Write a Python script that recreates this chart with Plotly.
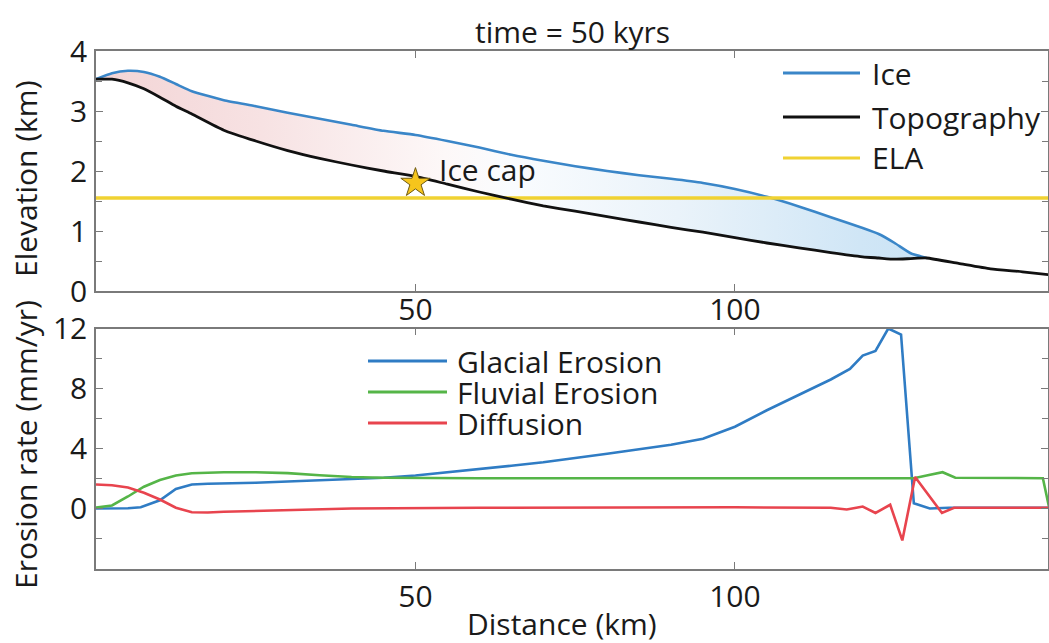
import plotly.graph_objects as go

W, H = 1049, 643

# ---------------- data: top panel (elevation, km) ----------------
dist_top = [0, 2.5, 5, 7.5, 10, 12.5, 15, 20, 25, 30, 35, 40, 45, 50, 55, 60, 65, 70,
            75, 80, 85, 90, 95, 100, 105, 110, 115, 120, 122.5, 125, 127.5, 130,
            135, 140, 145, 150]
topography = [3.53, 3.53, 3.47, 3.37, 3.23, 3.08, 2.95, 2.68, 2.5, 2.34, 2.21, 2.1, 2.0,
              1.91, 1.78, 1.65, 1.53, 1.42, 1.33, 1.24, 1.15, 1.06, 0.98, 0.89, 0.8,
              0.72, 0.64, 0.57, 0.55, 0.53, 0.54, 0.55, 0.46, 0.37, 0.32, 0.26]
dist_ice = [0, 2.5, 5, 7.5, 10, 12.5, 15, 20, 25, 30, 35, 40, 45, 50, 55, 60, 65, 70,
            75, 80, 85, 90, 95, 100, 105, 110, 115, 120, 122.5, 125, 127.5, 130]
ice = [3.53, 3.63, 3.67, 3.65, 3.57, 3.45, 3.33, 3.18, 3.08, 2.97, 2.87, 2.77, 2.67,
       2.6, 2.5, 2.39, 2.27, 2.17, 2.08, 2.0, 1.93, 1.87, 1.8, 1.7, 1.57, 1.41, 1.23,
       1.05, 0.95, 0.8, 0.63, 0.55]
ela_x = [0, 150]
ela = [1.55, 1.55]
star_x = [50]
star_y = [1.8]

# ---------------- data: bottom panel (erosion rate, mm/yr) ----------------
dist_glacial = [0, 5, 7, 10, 12.5, 15, 17.5, 20, 25, 30, 35, 40, 45, 50, 55, 60, 65, 70,
                75, 80, 85, 90, 95, 100, 105, 110, 115, 118, 120, 122, 124, 126, 128,
                130.5, 133.5, 140, 150]
glacial = [0.0, 0.02, 0.08, 0.55, 1.3, 1.6, 1.65, 1.67, 1.72, 1.8, 1.87, 1.94, 2.05,
           2.2, 2.4, 2.63, 2.85, 3.08, 3.35, 3.65, 3.95, 4.25, 4.65, 5.45, 6.55, 7.6,
           8.6, 9.3, 10.2, 10.5, 12.0, 11.6, 0.35, 0.0, 0.05, 0.05, 0.05]
dist_fluvial = [0, 2.5, 5, 7.5, 10, 12.5, 15, 17.5, 20, 25, 30, 35, 40, 45, 50, 60, 80,
                100, 120, 128, 130, 132.5, 134.5, 140, 148.2, 150]
fluvial = [0.07, 0.2, 0.8, 1.45, 1.9, 2.2, 2.35, 2.4, 2.42, 2.42, 2.36, 2.22, 2.1, 2.05,
           2.03, 2.02, 2.02, 2.02, 2.02, 2.02, 2.2, 2.42, 2.05, 2.02, 2.02, -1.6]
dist_diffusion = [0, 2.5, 5, 7.5, 10, 12.5, 15, 17.5, 20, 27, 35, 40, 60, 80, 100, 115,
                  117.5, 120, 122, 124.3, 126.2, 128.2, 132.4, 134.3, 140, 150]
diffusion = [1.6, 1.55, 1.4, 1.05, 0.6, 0.05, -0.25, -0.27, -0.22, -0.13, -0.05, 0.0,
             0.05, 0.07, 0.08, 0.05, -0.07, 0.13, -0.3, 0.25, -2.13, 2.1, -0.3, 0.05,
             0.05, 0.05]

ice_labels = ["Ice", "Topography", "ELA"]
erosion_labels = ["Glacial Erosion", "Fluvial Erosion", "Diffusion"]
x_ticks = [50, 100]
y1_ticks = [0, 1, 2, 3, 4]
y2_ticks = [0, 4, 8, 12]

# ---------------- styles ----------------
FONT = "Open Sans"
C_ICE = "#3a86c8"
C_TOPO = "#111111"
C_ELA = "#f0d232"
C_GLA = "#2f7cc4"
C_FLU = "#55b548"
C_DIF = "#e8444e"
AX = "#7a7a7a"
TXT = "#1a1a1a"


def px(x):
    return x / W


def py(y):
    return 1 - y / H


fig = go.Figure()

# ice fill (between topography and ice surface)
n_ice = len(dist_ice)
fig.add_trace(go.Scatter(x=dist_ice, y=topography[:n_ice], mode="lines",
                         line=dict(width=0, color="rgba(0,0,0,0)", shape="spline", smoothing=0.5),
                         showlegend=False, hoverinfo="skip", xaxis="x", yaxis="y"))
fig.add_trace(go.Scatter(x=dist_ice, y=ice, mode="lines", name=ice_labels[0],
                         line=dict(width=2.6, color=C_ICE, shape="spline", smoothing=0.5),
                         fill="tonexty",
                         fillgradient=dict(type="horizontal",
                                           colorscale=[[0, "rgb(243,212,213)"],
                                                       [0.2, "rgb(247,226,227)"],
                                                       [0.42, "rgb(253,248,248)"],
                                                       [0.5, "rgb(250,252,254)"],
                                                       [0.7, "rgb(234,243,250)"],
                                                       [0.92, "rgb(208,230,246)"],
                                                       [1, "rgb(203,227,245)"]]),
                         showlegend=False, xaxis="x", yaxis="y"))
fig.add_trace(go.Scatter(x=ela_x, y=ela, mode="lines", name=ice_labels[2],
                         line=dict(width=3.5, color=C_ELA), showlegend=False,
                         xaxis="x", yaxis="y"))
fig.add_trace(go.Scatter(x=dist_top, y=topography, mode="lines", name=ice_labels[1],
                         line=dict(width=2.8, color=C_TOPO, shape="spline", smoothing=0.5),
                         showlegend=False, xaxis="x", yaxis="y"))
fig.add_trace(go.Scatter(x=star_x, y=star_y, mode="markers", showlegend=False,
                         marker=dict(symbol="star", size=22, color="#f6c51c",
                                     line=dict(color="#6e5a12", width=1)),
                         xaxis="x", yaxis="y"))

# erosion rates
fig.add_trace(go.Scatter(x=dist_glacial, y=glacial, mode="lines", name=erosion_labels[0],
                         line=dict(width=2.6, color=C_GLA), showlegend=False,
                         xaxis="x2", yaxis="y2"))
fig.add_trace(go.Scatter(x=dist_fluvial, y=fluvial, mode="lines", name=erosion_labels[1],
                         line=dict(width=2.6, color=C_FLU), showlegend=False,
                         xaxis="x2", yaxis="y2"))
fig.add_trace(go.Scatter(x=dist_diffusion, y=diffusion, mode="lines", name=erosion_labels[2],
                         line=dict(width=2.6, color=C_DIF), showlegend=False,
                         xaxis="x2", yaxis="y2"))

xdom = [px(96), px(1048)]
common_axis = dict(showline=True, mirror="ticks", linecolor=AX, linewidth=1.5,
                   ticks="inside", ticklen=7, tickcolor=AX, tickwidth=1.2,
                   showgrid=False, zeroline=False, automargin=False,
                   tickfont=dict(family=FONT, size=30, color=TXT))

fig.update_layout(
    width=W, height=H,
    margin=dict(l=0, r=0, t=0, b=0, pad=0, autoexpand=False),
    paper_bgcolor="white", plot_bgcolor="white",
    showlegend=False,
    xaxis=dict(domain=xdom, range=[0, 149], anchor="y", tickvals=x_ticks,
               ticklabelstandoff=-9, **common_axis),
    yaxis=dict(domain=[py(291), py(51)], range=[0, 4], anchor="x", tickvals=y1_ticks,
               ticklabelstandoff=1,
               minor=dict(ticks="inside", ticklen=6, tickcolor=AX, tickvals=[0.5, 1.5, 2.5, 3.5]),
               **common_axis),
    xaxis2=dict(domain=xdom, range=[0, 149], anchor="y2", tickvals=x_ticks,
                ticklabelstandoff=1, **common_axis),
    yaxis2=dict(domain=[py(568.5), py(328.5)], range=[-4, 12], anchor="x2", tickvals=y2_ticks,
                ticklabelstandoff=1,
                minor=dict(ticks="inside", ticklen=6, tickcolor=AX, tickvals=[-2, 2, 6, 10]),
                **common_axis),
)

ann_font = dict(family=FONT, size=30, color=TXT)
annotations = [
    dict(text="time = 50 kyrs", x=px(572), y=py(31), xref="paper", yref="paper",
         xanchor="center", yanchor="middle", showarrow=False, font=ann_font),
    dict(text="Elevation (km)", x=px(25), y=py(179), xref="paper", yref="paper",
         xanchor="center", yanchor="middle", textangle=-90, showarrow=False, font=ann_font),
    dict(text="Erosion rate (mm/yr)", x=px(25), y=py(445), xref="paper", yref="paper",
         xanchor="center", yanchor="middle", textangle=-90, showarrow=False, font=ann_font),
    dict(text="Distance (km)", x=px(562), y=py(623), xref="paper", yref="paper",
         xanchor="center", yanchor="middle", showarrow=False, font=ann_font),
    dict(text="Ice cap", x=53.3, y=2.02, xref="x", yref="y",
         xanchor="left", yanchor="middle", showarrow=False, font=ann_font),
]

shapes = []
top_leg = [(C_ICE, 73), (C_TOPO, 117), (C_ELA, 158)]
for (col, yy), lab in zip(top_leg, ice_labels):
    shapes.append(dict(type="line", xref="paper", yref="paper", x0=px(783), x1=px(860),
                       y0=py(yy), y1=py(yy), line=dict(color=col, width=3)))
    annotations.append(dict(text=lab, x=px(870), y=py(yy), xref="paper", yref="paper",
                            xanchor="left", yanchor="middle", showarrow=False, font=ann_font))
bot_leg = [(C_GLA, 361), (C_FLU, 392), (C_DIF, 423)]
for (col, yy), lab in zip(bot_leg, erosion_labels):
    shapes.append(dict(type="line", xref="paper", yref="paper", x0=px(368), x1=px(447),
                       y0=py(yy), y1=py(yy), line=dict(color=col, width=3)))
    annotations.append(dict(text=lab, x=px(455), y=py(yy), xref="paper", yref="paper",
                            xanchor="left", yanchor="middle", showarrow=False, font=ann_font))

fig.update_layout(annotations=annotations, shapes=shapes)

fig.write_html("out.html")
